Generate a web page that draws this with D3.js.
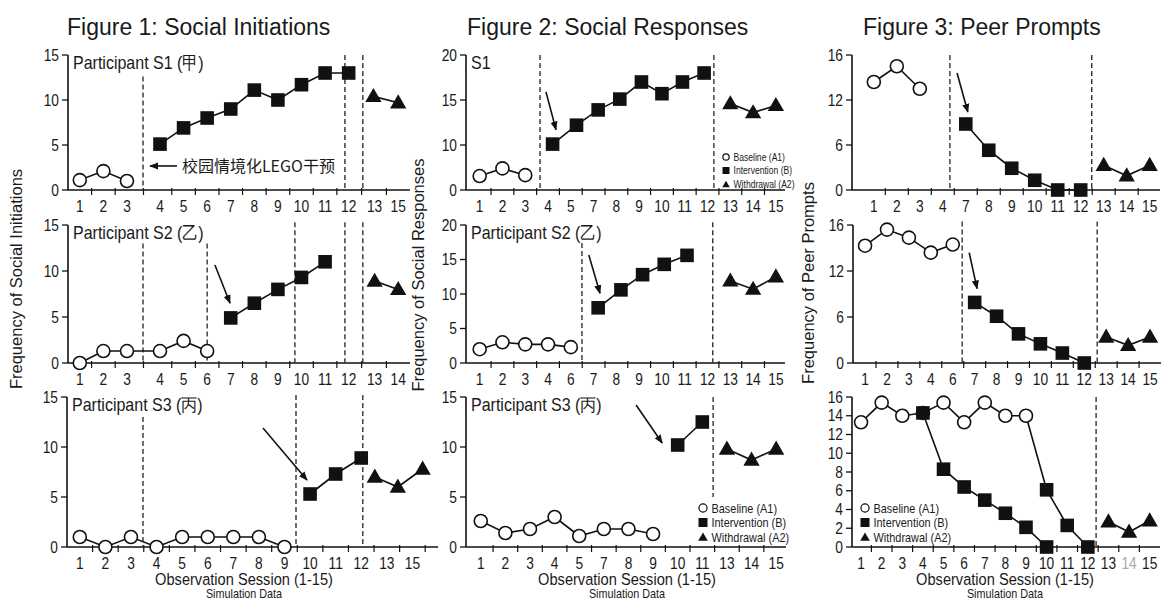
<!DOCTYPE html>
<html>
<head>
<meta charset="utf-8">
<script src="https://cdnjs.cloudflare.com/ajax/libs/d3/7.8.5/d3.min.js"></script>
<style>
  body { margin: 0; background: #fff; }
  svg { font-family: 'Liberation Sans', Arial, sans-serif; }
  text { fill: #1a1a1a; }
</style>
</head>
<body>
<div id="chart"></div>
<script>

////////////////////////////////////////////////////////////
//////////////////////// Data //////////////////////////////
////////////////////////////////////////////////////////////
// x values are "slots" along each broken session axis, y values are frequencies

//Figure 1: Social Initiations
var initTicksS1 = ["1","2","3","4","5","6","7","8","9","10","11","12","13","15"];
var initTicksS2 = ["1","2","3","4","5","6","7","8","9","10","11","12","13","14"];
var initTicksS3 = ["1","2","3","4","5","6","7","8","9","10","11","12","13","15"];
var initSlotsS12 = [1,2,3,4.4,5.4,6.4,7.4,8.4,9.4,10.4,11.4,12.4,13.5,14.5];
var initSlotsS3 = [1,2,3,4,5,6,7,8,9,10,11,12,13,14];

var initBaseS1 = [[1,1.1],[2,2.1],[3,1.0]];
var initIntS1 = [[4.4,5.1],[5.4,6.9],[6.4,8.0],[7.4,9.0],[8.4,11.1],[9.4,10.0],[10.4,11.7],[11.4,13.0],[12.4,13.0]];
var initWdS1 = [[13.45,10.4],[14.5,9.7]];

var initBaseS2 = [[1,0],[2,1.3],[3,1.3],[4.4,1.3],[5.4,2.4],[6.4,1.3]];
var initIntS2 = [[7.4,4.9],[8.4,6.5],[9.4,8.0],[10.4,9.3],[11.4,11.0]];
var initWdS2 = [[13.5,8.9],[14.5,8.0]];

var initBaseS3 = [[1,1],[2,0],[3,1],[4,0],[5,1],[6,1],[7,1],[8,1],[9,0]];
var initIntS3 = [[10,5.3],[11,7.3],[12,8.9]];
var initWdS3 = [[12.53,7.0],[13.43,6.0],[14.4,7.8]];

//Figure 2: Social Responses
var respTicksS1 = ["1","2","3","4","5","7","8","9","10","11","12","13","14","15"];
var respTicksS2 = ["1","2","3","4","6","7","8","9","10","11","12","13","14","15"];
var respTicksS3 = ["1","2","3","4","5","7","8","9","10","11","13","14","15"];

var respBaseS1 = [[1,3.1],[2,4.8],[3,3.3]];
var respIntS1 = [[4.2,10.1],[5.25,12.2],[6.2,13.9],[7.15,15.1],[8.1,17.0],[9.0,15.7],[9.9,17.0],[10.85,18.0]];
var respWdS1 = [[12,14.6],[13,13.6],[14,14.4]];

var respBaseS2 = [[1,2.0],[2,3.0],[3,2.7],[4,2.7],[5,2.3]];
var respIntS2 = [[6.2,8.0],[7.2,10.6],[8.15,12.8],[9.1,14.3],[10.1,15.6]];
var respWdS2 = [[12,11.9],[13,10.7],[14,12.5]];

var respBaseS3 = [[1,2.6],[2,1.4],[3,1.8],[4,3.0],[5,1.1],[6,1.8],[7,1.8],[8,1.3]];
var respIntS3 = [[9,10.2],[10,12.5]];
var respWdS3 = [[11,9.8],[12,8.7],[13,9.8]];

//Figure 3: Peer Prompts
var promptTicksS1 = ["1","2","3","4","7","8","9","10","11","12","13","14","15"];
var promptTicksS2 = ["1","2","3","4","6","7","8","9","10","11","12","13","14","15"];
var promptTicksS3 = ["1","2","3","4","5","6","7","8","9","10","11","12","13","14","15"];

var promptBaseS1 = [[1,13.6],[2,15.0],[3,13.0]];
var promptIntS1 = [[5,8.8],[6,5.3],[7,2.9],[8,1.3],[9,0],[10,0]];
var promptWdS1 = [[11,3.3],[12,1.9],[13,3.3]];

var promptBaseS2 = [[1,14.2],[2,15.6],[3,14.9],[4,13.6],[5,14.3]];
var promptIntS2 = [[6,7.9],[7,6.1],[8,3.8],[9,2.5],[10,1.3],[11,0]];
var promptWdS2 = [[12,3.4],[13,2.3],[14,3.4]];

var promptBaseS3 = [[1,13.3],[2,15.4],[3,14.0],[4,14.3],[5,15.4],[6,13.3],[7,15.4],[8,14.0],[9,14.0]];
var promptIntS3a = [[4,14.3],[5,8.3],[6,6.4],[7,5.0],[8,3.6],[9,2.1],[10,0]];
var promptIntS3b = [[10,6.1],[11,2.3],[12,0]];
var promptWdS3 = [[13,2.7],[14,1.6],[15,2.8]];

var legendItems = ["Baseline (A1)", "Intervention (B)", "Withdrawal (A2)"];

////////////////////////////////////////////////////////////
/////////////////////// Layout /////////////////////////////
////////////////////////////////////////////////////////////

var width = 1161, height = 601;
var rowTop = [55, 225, 397],
    rowBot = [190, 363, 547];

var seq = function(n) { return d3.range(1, n + 1); };

var panels = [
  {row:0, xDom:[0.5,15], xRange:[68,410], yDom:[0,15], yTicks:[0,5,10,15],
   ticks:initTicksS1, slots:initSlotsS12, base:initBaseS1, ints:[initIntS1], wd:initWdS1,
   dashed:[[3.68,12.6,0],[12.24,15,0],[13.0,15,0]], label:"Participant S1 (甲)", arrows:[]},
  {row:1, xDom:[0.5,15], xRange:[68,410], yDom:[0,15], yTicks:[0,5,10,15],
   ticks:initTicksS2, slots:initSlotsS12, base:initBaseS2, ints:[initIntS2], wd:initWdS2,
   dashed:[[3.68,13,0],[6.4,13,0],[10.12,15.3,0],[12.24,15.3,0],[13.0,15.3,0]], label:"Participant S2 (乙)",
   arrows:[[6.73,10.65,7.37,6.5]]},
  {row:2, xDom:[0.5,15], xRange:[67,438], yDom:[0,15], yTicks:[0,5,10,15],
   ticks:initTicksS3, slots:initSlotsS3, base:initBaseS3, ints:[initIntS3], wd:initWdS3,
   dashed:[[3.47,13,0],[9.45,15.2,0],[12.06,15.2,0]], label:"Participant S3 (丙)",
   arrows:[[8.16,11.9,9.88,6.7]]},

  {row:0, xDom:[0.4,14.4], xRange:[466,785], yDom:[0,10,15,20], yTicks:[0,10,15,20],
   ticks:respTicksS1, slots:seq(14), base:respBaseS1, ints:[respIntS1], wd:respWdS1,
   dashed:[[3.65,20,0],[11.28,20,0]], label:"S1", arrows:[[3.91,15.9,4.35,11.7]]},
  {row:1, xDom:[0.4,14.4], xRange:[466,785], yDom:[0,20], yTicks:[0,5,10,15,20],
   ticks:respTicksS2, slots:seq(14), base:respBaseS2, ints:[respIntS2], wd:respWdS2,
   dashed:[[5.49,17.4,0],[11.23,20.4,0]], label:"Participant S2 (乙)", arrows:[[5.79,15.65,6.28,10.1]]},
  {row:2, xDom:[0.4,13.4], xRange:[466,786], yDom:[0,15], yTicks:[0,5,10,15],
   ticks:respTicksS3, slots:seq(13), base:respBaseS3, ints:[respIntS3], wd:respWdS3,
   dashed:[[10.44,15,5]], label:"Participant S3 (丙)", arrows:[[7.31,14.2,8.37,10.4]]},

  {row:0, xDom:[0.05,13.45], xRange:[852,1160], yDom:[0,6,12,16], yTicks:[0,6,12,16],
   ticks:promptTicksS1, slots:seq(13), base:promptBaseS1, ints:[promptIntS1], wd:promptWdS1,
   dashed:[[4.31,16,0],[10.48,16,0]], label:null, arrows:[[4.62,14.4,5.09,10.4]]},
  {row:1, xDom:[0.45,14.5], xRange:[853,1161], yDom:[0,6,12,16], yTicks:[0,6,12,16],
   ticks:promptTicksS2, slots:seq(14), base:promptBaseS2, ints:[promptIntS2], wd:promptWdS2,
   dashed:[[5.43,16.3,0],[11.59,16.3,0]], label:null, arrows:[[5.75,13.6,6.11,9.7]]},
  {row:2, xDom:[0.56,15.5], xRange:[852,1160], yDom:[0,16], yTicks:d3.range(0,17,2),
   ticks:promptTicksS3, slots:seq(15), base:promptBaseS3, ints:[promptIntS3a, promptIntS3b], wd:promptWdS3,
   dashed:[[12.4,16,0]], label:null, arrows:[],
   links:[[promptBaseS3[8], promptIntS3b[0]]], grayTick:"14"}
];

////////////////////////////////////////////////////////////
//////////////////// Initialize the SVG ////////////////////
////////////////////////////////////////////////////////////

var svg = d3.select("#chart").append("svg")
    .attr("width", width)
    .attr("height", height);

svg.append("rect").attr("width", width).attr("height", height).style("fill", "#fff");

svg.append("defs").append("marker")
    .attr("id", "arrowHead")
    .attr("viewBox", "0 0 10 10")
    .attr("refX", 9).attr("refY", 5)
    .attr("markerWidth", 9).attr("markerHeight", 9)
    .attr("markerUnits", "userSpaceOnUse")
    .attr("orient", "auto")
  .append("path")
    .attr("d", "M0,1 L10,5 L0,9 Z")
    .style("fill", "#111");

//Text helper, slightly condensed like the original
function addText(parent, x, y, str, size, anchor, sx) {
  return parent.append("text")
      .attr("transform", "translate(" + x + "," + y + ") scale(" + (sx || 1) + ",1)")
      .attr("text-anchor", anchor || "start")
      .style("font-size", size + "px")
      .text(str);
}

var sqSym = d3.symbol().type(d3.symbolSquare).size(185),
    triSym = d3.symbol().type(d3.symbolTriangle).size(115);

////////////////////////////////////////////////////////////
////////////////////// Draw panels /////////////////////////
////////////////////////////////////////////////////////////

panels.forEach(function(p) {
  var top = rowTop[p.row], bot = rowBot[p.row];
  var x = d3.scaleLinear().domain(p.xDom).range(p.xRange);
  var n = p.yDom.length;
  var y = d3.scaleLinear().domain(p.yDom)
      .range(p.yDom.map(function(d, i) { return bot - i * (bot - top) / (n - 1); }));
  var x0 = p.xRange[0];
  var g = svg.append("g");

  //Axes lines
  g.append("line").attr("x1", x0).attr("x2", p.xRange[1]).attr("y1", bot).attr("y2", bot)
      .style("stroke", "#111").style("stroke-width", 1.6);
  g.append("line").attr("x1", x0).attr("x2", x0).attr("y1", top).attr("y2", bot)
      .style("stroke", "#111").style("stroke-width", 1.6);

  //Y ticks
  p.yTicks.forEach(function(t) {
    g.append("line").attr("x1", x0 - 6).attr("x2", x0).attr("y1", y(t)).attr("y2", y(t))
        .style("stroke", "#111").style("stroke-width", 1.3);
    addText(g, x0 - 9, y(t) + 5.5, t, 16, "end", 0.86);
  });

  //X ticks between sessions and labels
  p.slots.forEach(function(s, i) {
    var next = i < p.slots.length - 1 ? p.slots[i + 1] : s + 1;
    var mx = x((s + next) / 2);
    if (mx < p.xRange[1]) {
      g.append("line").attr("x1", mx).attr("x2", mx).attr("y1", bot - 2).attr("y2", bot + 5)
          .style("stroke", "#111").style("stroke-width", 1.2);
    }
    addText(g, x(s), bot + 22, p.ticks[i], 16, "middle", 0.86)
        .style("fill", p.ticks[i] === p.grayTick ? "#aaa" : "#1a1a1a");
  });

  //Phase change lines
  p.dashed.forEach(function(d) {
    g.append("line").attr("x1", x(d[0])).attr("x2", x(d[0]))
        .attr("y1", y(d[1])).attr("y2", y(d[2]))
        .style("stroke", "#333").style("stroke-width", 1.4)
        .style("stroke-dasharray", "5,3");
  });

  //Connecting lines
  var line = d3.line().x(function(d) { return x(d[0]); }).y(function(d) { return y(d[1]); });
  var paths = [p.base, p.wd].concat(p.ints).concat(p.links || []);
  paths.forEach(function(pts) {
    g.append("path").attr("d", line(pts))
        .style("fill", "none").style("stroke", "#111").style("stroke-width", 1.6);
  });

  //Markers
  g.selectAll(".base").data(p.base).enter().append("circle")
      .attr("cx", function(d) { return x(d[0]); })
      .attr("cy", function(d) { return y(d[1]); })
      .attr("r", 6.5)
      .style("fill", "#fff").style("stroke", "#111").style("stroke-width", 1.6);
  p.ints.forEach(function(pts) {
    g.selectAll(null).data(pts).enter().append("path")
        .attr("d", sqSym)
        .attr("transform", function(d) { return "translate(" + x(d[0]) + "," + y(d[1]) + ")"; })
        .style("fill", "#111");
  });
  g.selectAll(".wd").data(p.wd).enter().append("path")
      .attr("d", triSym)
      .attr("transform", function(d) { return "translate(" + x(d[0]) + "," + (y(d[1]) + 1) + ")"; })
      .style("fill", "#111");

  //Arrows
  p.arrows.forEach(function(a) {
    g.append("line").attr("x1", x(a[0])).attr("y1", y(a[1])).attr("x2", x(a[2])).attr("y2", y(a[3]))
        .style("stroke", "#111").style("stroke-width", 1.6)
        .attr("marker-end", "url(#arrowHead)");
  });

  //Participant label
  if (p.label) addText(g, x0 + 5, top + 14, p.label, 18, "start", 0.89);

  p.x = x; p.y = y;
});

//Intervention note in the first panel
var p0 = panels[0];
svg.append("line")
    .attr("x1", p0.x(5.12)).attr("x2", p0.x(3.98))
    .attr("y1", p0.y(2.67)).attr("y2", p0.y(2.67))
    .style("stroke", "#111").style("stroke-width", 1.6)
    .attr("marker-end", "url(#arrowHead)");
addText(svg, p0.x(5.33), p0.y(2.0), "校园情境化LEGO干预", 16, "start", 1)
    .style("font-family", "'Noto Sans CJK SC', sans-serif");

////////////////////////////////////////////////////////////
/////////////////////// Legends ////////////////////////////
////////////////////////////////////////////////////////////

function drawLegend(lx, ly, gap, size, sx, mk) {
  var g = svg.append("g");
  legendItems.forEach(function(t, i) {
    var cy = ly + i * gap;
    if (i === 0) g.append("circle").attr("cx", lx).attr("cy", cy).attr("r", mk * 0.45)
        .style("fill", "#fff").style("stroke", "#111").style("stroke-width", 1.2);
    if (i === 1) g.append("rect").attr("x", lx - mk / 2).attr("y", cy - mk / 2)
        .attr("width", mk).attr("height", mk).style("fill", "#111");
    if (i === 2) g.append("path").attr("d", d3.symbol().type(d3.symbolTriangle).size(mk * mk * 0.5))
        .attr("transform", "translate(" + lx + "," + (cy + 1) + ")").style("fill", "#111");
    addText(g, lx + mk / 2 + 4, cy + size * 0.36, t, size, "start", sx);
  });
}
drawLegend(726, 157, 13.5, 11, 0.78, 7);
drawLegend(703, 508, 14.5, 13, 0.84, 9);
drawLegend(865, 508, 14.5, 13, 0.84, 9);

////////////////////////////////////////////////////////////
////////////////////// Titles //////////////////////////////
////////////////////////////////////////////////////////////

var colTitles = ["Figure 1: Social Initiations", "Figure 2: Social Responses", "Figure 3: Peer Prompts"],
    colTitleX = [67, 467, 863],
    yTitles = ["Frequency of Social Initiations", "Frequency of Social Responses", "Frequency of Peer Prompts"],
    yTitleX = [22, 424, 814],
    yTitleY = [279, 275, 283],
    colCenter = [244, 627, 1005];

colTitles.forEach(function(t, i) {
  addText(svg, colTitleX[i], 35, t, 23, "start", 1);
  svg.append("text")
      .attr("transform", "translate(" + yTitleX[i] + "," + yTitleY[i] + ") rotate(-90)")
      .attr("text-anchor", "middle")
      .style("font-size", "16.5px")
      .text(yTitles[i]);
  addText(svg, colCenter[i], 585, "Observation Session (1-15)", 17, "middle", 0.86);
  addText(svg, colCenter[i], 598, "Simulation Data", 12, "middle", 0.9);
});

</script>
</body>
</html>
